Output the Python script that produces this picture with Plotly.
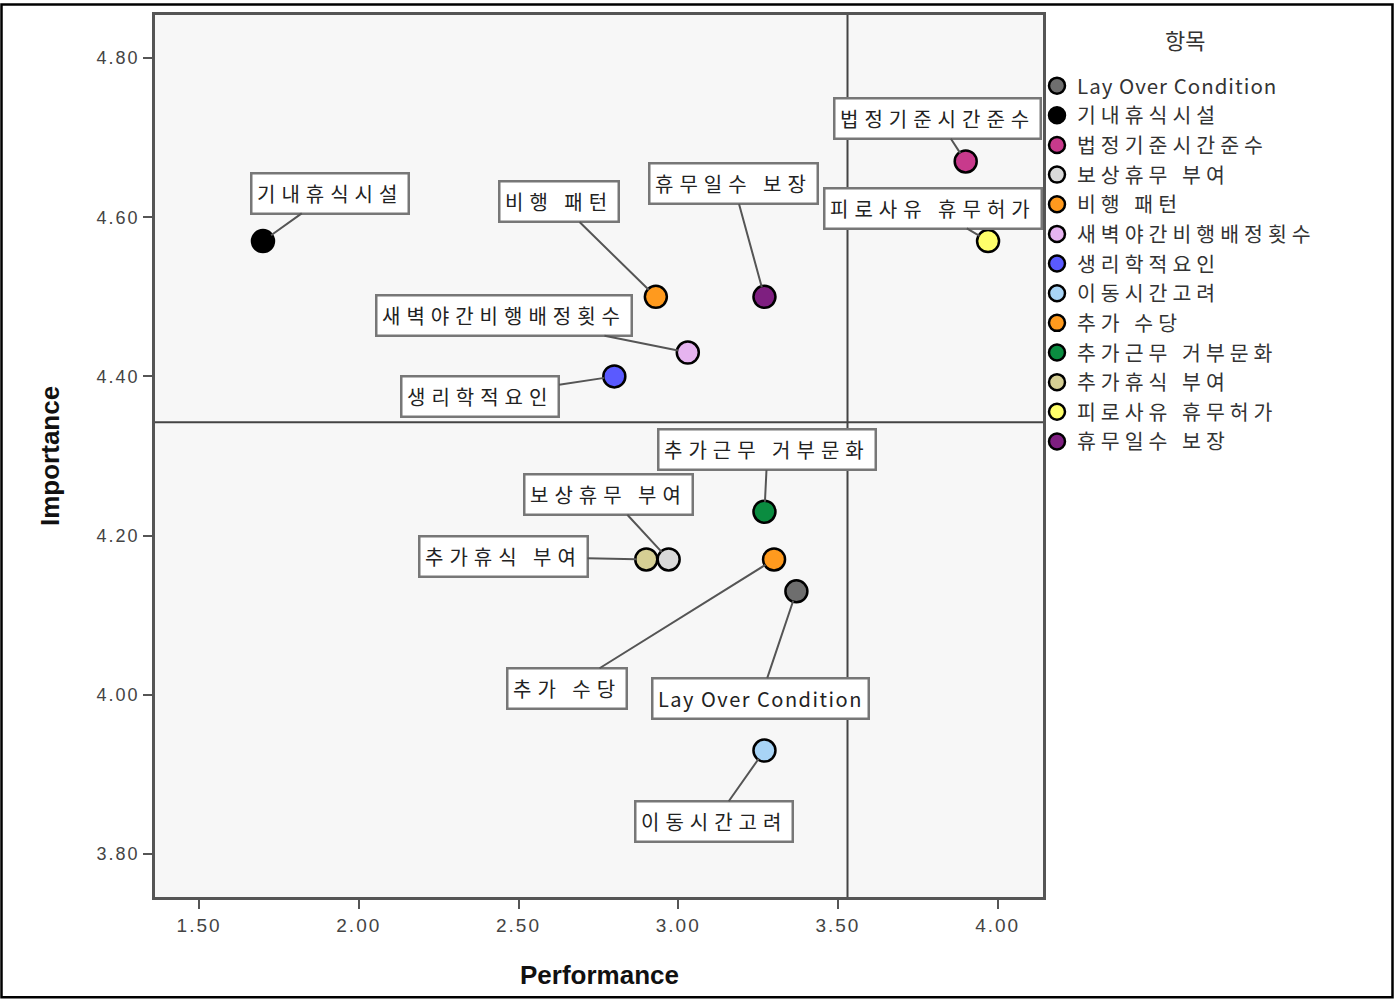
import plotly.graph_objects as go

# ---- data ----
items = ["Lay Over Condition", "기내휴식시설", "법정기준시간준수", "보상휴무 부여", "비행 패턴",
         "새벽야간비행배정횟수", "생리학적요인", "이동시간고려", "추가 수당", "추가근무 거부문화",
         "추가휴식 부여", "피로사유 휴무허가", "휴무일수 보장"]
performance = [3.37, 1.70, 3.90, 2.97, 2.93, 3.03, 2.80, 3.27, 3.30, 3.27, 2.90, 3.97, 3.27]
importance = [4.13, 4.57, 4.67, 4.17, 4.50, 4.43, 4.40, 3.93, 4.17, 4.23, 4.17, 4.57, 4.50]
mean_performance = 3.53
mean_importance = 4.3425
x_ticks = [1.5, 2.0, 2.5, 3.0, 3.5, 4.0]
y_ticks = [3.8, 4.0, 4.2, 4.4, 4.6, 4.8]
legend_title = "항목"

# ---- styles ----
colors = ["#6E6E6E", "#000000", "#C83A8C", "#D9D9D9", "#FF9A1E", "#E6B4F0", "#5A5AFF",
          "#A8D4F6", "#FF9A1E", "#0A8C40", "#D6CF94", "#FFFF6A", "#7E1F80"]
label_offsets = [(-36, 107), (67, -48), (-28, -43), (-60, -65), (-97, -95), (-184, -37),
                 (-134, 20), (-50, 71), (-207, 129), (3, -62), (-143, -3), (-55, -33), (-31, -113)]

KFONT = "Noto Sans CJK KR, Liberation Sans, Arial, sans-serif"
PW, PH, ML, MT = 888, 885, 155, 12   # plot area size / margins in px


def spaced(s, ko="6px", latin="1.5px"):
    ls = latin if s.isascii() else ko
    return f"<span style='letter-spacing:{ls}'>{s}</span>"


def tick_txt(v):
    return f"<span style='letter-spacing:2px'>{v:.2f}</span>"


fig = go.Figure()
for name, px_, im, c in zip(items, performance, importance, colors):
    fig.add_trace(go.Scatter(
        x=[px_], y=[im], mode="markers", name=spaced(name, ko="5px", latin="1px"),
        marker=dict(size=22, color=c, line=dict(color="#000000", width=2.5)),
    ))

annotations = []
for name, px_, im, (ax, ay) in zip(items, performance, importance, label_offsets):
    annotations.append(dict(
        x=px_, y=im, xref="x", yref="y", text=spaced(name),
        showarrow=True, arrowhead=0, arrowwidth=2, arrowcolor="#555555",
        ax=ax, ay=ay, axref="pixel", ayref="pixel", standoff=10,
        font=dict(family=KFONT, size=20, color="#222222"),
        bgcolor="#FFFFFF", bordercolor="#777777", borderwidth=2.5, borderpad=4.5,
    ))

# axis titles
annotations.append(dict(x=0.5, y=-(975 - 897) / PH, xref="paper", yref="paper",
                        text="<b>Performance</b>", showarrow=False, yanchor="middle",
                        font=dict(family="Liberation Sans, Arial", size=26, color="#111111")))
annotations.append(dict(x=-(ML - 50) / PW, y=0.5, xref="paper", yref="paper",
                        text="<b>Importance</b>", showarrow=False, textangle=-90,
                        xanchor="center", yanchor="middle",
                        font=dict(family="Liberation Sans, Arial", size=26, color="#111111")))
# legend title
annotations.append(dict(x=(1185 - ML) / PW, y=(897 - 36) / PH, xref="paper", yref="paper",
                        text=legend_title, showarrow=False, xanchor="center", yanchor="middle",
                        font=dict(family=KFONT, size=22, color="#333333")))

shapes = [
    dict(type="line", xref="x", yref="paper", x0=mean_performance, x1=mean_performance, y0=0, y1=1,
         line=dict(color="#444444", width=2)),
    dict(type="line", xref="paper", yref="y", x0=0, x1=1, y0=mean_importance, y1=mean_importance,
         line=dict(color="#444444", width=2)),
    # outer frame around whole figure
    dict(type="rect", xref="paper", yref="paper",
         x0=-153.5 / PW, x1=(1392.5 - ML) / PW, y0=-(997.5 - 897) / PH, y1=(897 - 1.5) / PH,
         line=dict(color="#000000", width=2.5), fillcolor="rgba(0,0,0,0)", layer="below"),
]

fig.update_layout(
    width=1394, height=999,
    margin=dict(l=ML, r=351, t=MT, b=102),
    paper_bgcolor="#FFFFFF", plot_bgcolor="#F7F7F7",
    showlegend=True,
    legend=dict(
        x=1 - 6 / PW, y=(897 - 63) / PH, xanchor="left", yanchor="top",
        font=dict(family=KFONT, size=20.5, color="#333333"),
        bgcolor="rgba(0,0,0,0)", itemsizing="trace", tracegroupgap=0,
    ),
    annotations=annotations,
    shapes=shapes,
    xaxis=dict(range=[1.362, 4.142], tickvals=x_ticks, ticktext=[tick_txt(v) for v in x_ticks],
               showgrid=False, zeroline=False, showline=True, linecolor="#555555", linewidth=2.5,
               mirror=True, ticks="outside", ticklen=9, tickwidth=2, tickcolor="#555555",
               tickfont=dict(family="Liberation Sans Narrow, Liberation Sans, Arial", size=19, color="#444444")),
    yaxis=dict(range=[3.746, 4.854], tickvals=y_ticks, ticktext=[tick_txt(v) for v in y_ticks],
               showgrid=False, zeroline=False, showline=True, linecolor="#555555", linewidth=2.5,
               mirror=True, ticks="outside", ticklen=9, tickwidth=2, tickcolor="#555555",
               tickfont=dict(family="Liberation Sans, Arial", size=18, color="#444444")),
)

fig.write_html("out.html", config={"displayModeBar": False},
               post_script="document.body.style.margin='0';")
